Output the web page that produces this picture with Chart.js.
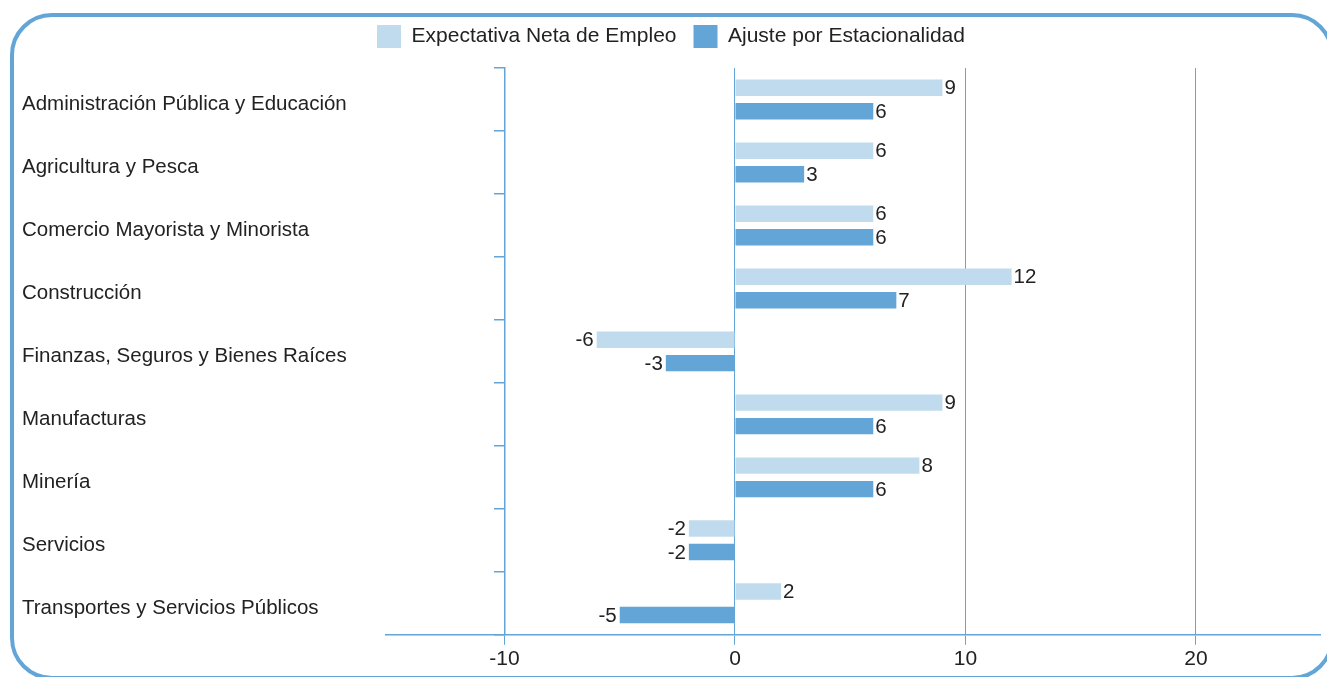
<!DOCTYPE html>
<html>
<head>
<meta charset="utf-8">
<script src="https://cdn.jsdelivr.net/npm/chart.js@4.4.1/dist/chart.umd.min.js"></script>
<style>
  html, body { margin: 0; padding: 0; background: #ffffff; }
  #wrap { position: relative; width: 1327px; height: 677px; overflow: hidden; }
  #frame { position: absolute; left: 10px; top: 13px; width: 1316px; height: 659px;
           border: 4px solid #62a5d6; border-radius: 42px; pointer-events: none; }
  canvas { position: absolute; left: 0; top: 0; }
</style>
</head>
<body>
<div id="wrap">
  <canvas id="c" width="1327" height="677"></canvas>
  <div id="frame"></div>
</div>
<script>
const categories = [
  'Administración Pública y Educación',
  'Agricultura y Pesca',
  'Comercio Mayorista y Minorista',
  'Construcción',
  'Finanzas, Seguros y Bienes Raíces',
  'Manufacturas',
  'Minería',
  'Servicios',
  'Transportes y Servicios Públicos'
];
const seriesNames = ['Expectativa Neta de Empleo', 'Ajuste por Estacionalidad'];
const expectativa = [9, 6, 6, 12, -6, 9, 8, -2, 2];
const ajuste = [6, 3, 6, 7, -3, 6, 6, -2, -5];
const xTicks = [-10, 0, 10, 20];

const LIGHT = '#c0dbee';
const DARK = '#62a5d6';
const LINE = '#62a5d6';
const TEXT = '#222222';
const FONT = "'Liberation Sans', Arial, sans-serif";

const valueLabels = {
  id: 'valueLabels',
  afterDatasetsDraw(chart) {
    const ctx = chart.ctx;
    ctx.save();
    ctx.font = '20.5px ' + FONT;
    ctx.fillStyle = TEXT;
    ctx.textBaseline = 'middle';
    chart.data.datasets.forEach((ds, di) => {
      const meta = chart.getDatasetMeta(di);
      meta.data.forEach((bar, i) => {
        const v = ds.data[i];
        if (v >= 0) { ctx.textAlign = 'left'; ctx.fillText(String(v), bar.x + 2, bar.y + 1); }
        else { ctx.textAlign = 'right'; ctx.fillText(String(v), bar.x - 3, bar.y + 1); }
      });
    });
    ctx.restore();
  }
};

new Chart(document.getElementById('c'), {
  type: 'bar',
  data: {
    labels: categories,
    datasets: [
      { label: seriesNames[0], data: expectativa, backgroundColor: LIGHT, borderWidth: 0,
        barPercentage: 0.7, categoryPercentage: 0.746 },
      { label: seriesNames[1], data: ajuste, backgroundColor: DARK, borderWidth: 0,
        barPercentage: 0.7, categoryPercentage: 0.746 }
    ]
  },
  options: {
    indexAxis: 'y',
    responsive: false,
    animation: false,
    devicePixelRatio: 1,
    layout: { padding: { left: 22, right: 7, top: 8, bottom: 3 } },
    plugins: {
      legend: {
        position: 'top',
        labels: {
          boxWidth: 24, boxHeight: 23, padding: 17,
          color: TEXT, font: { family: FONT, size: 21 }
        }
      },
      tooltip: { enabled: false }
    },
    scales: {
      x: {
        type: 'linear',
        min: -15.14, max: 25.38,
        afterBuildTicks: s => { s.ticks = xTicks.map(v => ({ value: v })); },
        grid: { color: LINE, lineWidth: 1, tickLength: 10, drawTicks: true },
        border: { display: true, color: LINE, width: 1.5 },
        ticks: { color: TEXT, font: { family: FONT, size: 21 }, padding: 2 }
      },
      xTop: {
        type: 'linear',
        axis: 'x',
        position: 'top',
        min: -15.14, max: 25.38,
        afterFit: s => { s.height = 10; },
        grid: { display: false, drawTicks: false },
        border: { display: false },
        ticks: { display: false }
      },
      y: {
        type: 'category',
        position: 'left',
        offset: true,
        afterFit: s => { s.width = 364; },
        grid: { display: false, drawTicks: false },
        border: { display: false },
        ticks: { crossAlign: 'far', color: TEXT, font: { family: FONT, size: 20.5 }, padding: 0, labelOffset: 5 }
      },
      y2: {
        type: 'category',
        axis: 'y',
        position: { x: -10 },
        offset: true,
        grid: { offset: true, drawOnChartArea: false, drawTicks: true, tickLength: 10, color: LINE, lineWidth: 1.5 },
        border: { display: true, color: LINE, width: 1.5 },
        ticks: { display: false }
      }
    }
  },
  plugins: [valueLabels]
});
</script>
</body>
</html>
